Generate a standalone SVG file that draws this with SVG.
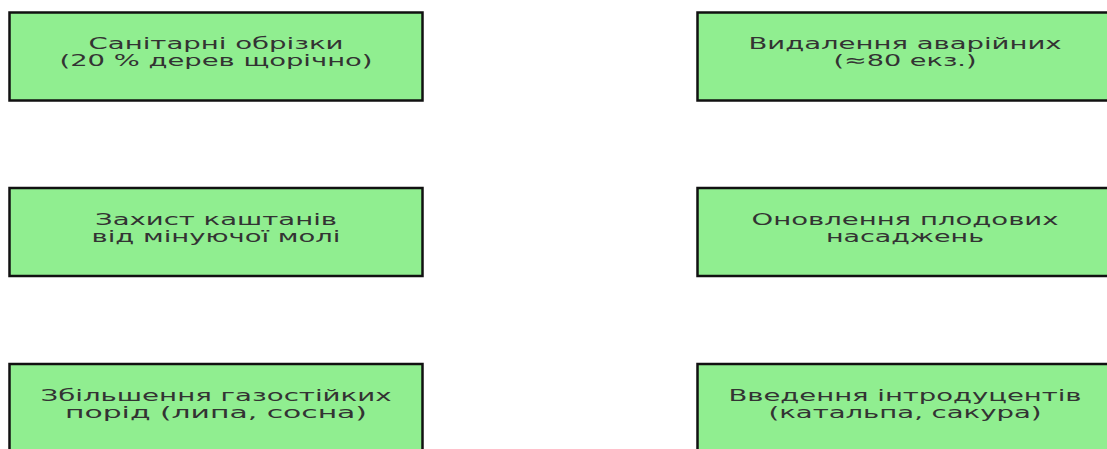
<svg xmlns="http://www.w3.org/2000/svg" width="1107" height="449" viewBox="0 0 1107 449">
<style>
.box{fill:#90ee90;stroke:#111;stroke-width:2.5}
.t{font-family:"DejaVu Sans",sans-serif;font-size:16px;fill:#333;text-anchor:middle}
</style>
<rect width="1107" height="449" fill="#fff"/>
<g id="connectors"/>
<g id="n1">
<rect class="box" x="9.5" y="12.5" width="413" height="88"/>
<text class="t" x="216" y="49.2" textLength="255" lengthAdjust="spacingAndGlyphs">Санітарні обрізки</text>
<text class="t" x="216" y="66.2" textLength="313" lengthAdjust="spacingAndGlyphs">(20 % дерев щорічно)</text>
</g>
<g id="n2">
<rect class="box" x="697.5" y="12.5" width="414" height="88"/>
<text class="t" x="905" y="49.2" textLength="313" lengthAdjust="spacingAndGlyphs">Видалення аварійних</text>
<text class="t" x="905" y="66.2" textLength="143" lengthAdjust="spacingAndGlyphs">(≈80 екз.)</text>
</g>
<g id="n3">
<rect class="box" x="9.5" y="188" width="413" height="88"/>
<text class="t" x="216" y="224.7" textLength="242" lengthAdjust="spacingAndGlyphs">Захист каштанів</text>
<text class="t" x="216" y="241.7" textLength="249" lengthAdjust="spacingAndGlyphs">від мінуючої молі</text>
</g>
<g id="n4">
<rect class="box" x="697.5" y="188" width="414" height="88"/>
<text class="t" x="905" y="224.7" textLength="307" lengthAdjust="spacingAndGlyphs">Оновлення плодових</text>
<text class="t" x="905" y="241.7" textLength="158" lengthAdjust="spacingAndGlyphs">насаджень</text>
</g>
<g id="n5">
<rect class="box" x="9.5" y="364" width="413" height="88"/>
<text class="t" x="216" y="400.7" textLength="351" lengthAdjust="spacingAndGlyphs">Збільшення газостійких</text>
<text class="t" x="216" y="417.7" textLength="302" lengthAdjust="spacingAndGlyphs">порід (липа, сосна)</text>
</g>
<g id="n6">
<rect class="box" x="697.5" y="364" width="414" height="88"/>
<text class="t" x="905" y="400.7" textLength="353" lengthAdjust="spacingAndGlyphs">Введення інтродуцентів</text>
<text class="t" x="905" y="417.7" textLength="273" lengthAdjust="spacingAndGlyphs">(катальпа, сакура)</text>
</g>
</svg>
